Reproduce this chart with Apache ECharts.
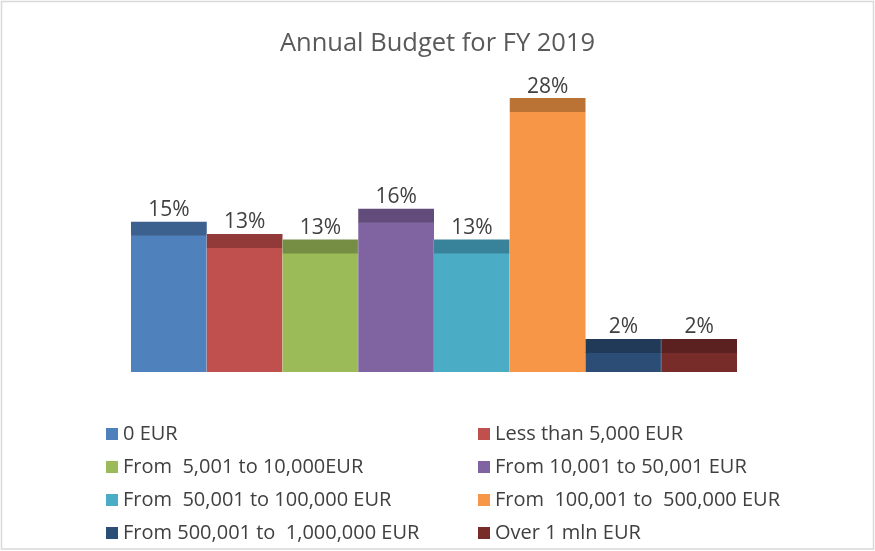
<!DOCTYPE html>
<html>
<head>
<meta charset="utf-8">
<script src="https://cdn.jsdelivr.net/npm/echarts@6/dist/echarts.min.js"></script>
<style>html,body{margin:0;padding:0;background:#fff;}#c{width:875px;height:551px;}</style>
</head>
<body>
<div id="c"></div>
<script>
const categories = ['0 EUR', 'Less than 5,000 EUR', 'From  5,001 to 10,000EUR', 'From 10,001 to 50,001 EUR',
  'From  50,001 to 100,000 EUR', 'From  100,001 to  500,000 EUR', 'From 500,001 to  1,000,000 EUR', 'Over 1 mln EUR'];
const values = [14.7, 13.4, 12.8, 16.1, 12.8, 28.0, 2.1, 2.1];
const labels = ['15%', '13%', '13%', '16%', '13%', '28%', '2%', '2%'];
const colors = ['#4f81bd', '#c0504d', '#9bbb59', '#8064a2', '#4bacc6', '#f79646', '#2c4d75', '#772c2a'];
const topColors = ['#3c618f', '#923a39', '#758e43', '#614c7b', '#39839a', '#bb7235', '#213a58', '#5a2120'];

const FONT = '"Open Sans", "Noto Sans", sans-serif';
const chart = echarts.init(document.getElementById('c'));

const series = categories.map((name, i) => ({
  name: name,
  type: 'custom',
  color: colors[i],
  itemStyle: { color: colors[i] },
  encode: { x: 0, y: 1 },
  data: [[i, values[i]]],
  renderItem: function (params, api) {
    const xi = api.value(0), v = api.value(1);
    const base = api.coord([xi, 0]);
    const top = api.coord([xi, v]);
    const w = api.size([1, 0])[0];
    const band = 13.5;
    return {
      type: 'group',
      children: [
        { type: 'rect', shape: { x: base[0] - w / 2, y: top[1] - band, width: w, height: base[1] - top[1] + band },
          style: { fill: 'none', stroke: 'rgba(255,255,255,0.35)', lineWidth: 1 } },
        { type: 'rect', shape: { x: base[0] - w / 2, y: top[1], width: w, height: base[1] - top[1] },
          style: { fill: colors[i] } },
        { type: 'rect', shape: { x: base[0] - w / 2, y: top[1] - band, width: w, height: band + 0.5 },
          style: { fill: topColors[i] } },
        { type: 'text', style: { text: labels[i], x: base[0], y: top[1] - band - 1,
          align: 'center', verticalAlign: 'bottom', fill: '#404040', fontSize: 21, fontFamily: FONT } }
      ]
    };
  }
}));

const leftNames = [categories[0], categories[2], categories[4], categories[6]];
const rightNames = [categories[1], categories[3], categories[5], categories[7]];
const legendBase = {
  orient: 'vertical', icon: 'rect', itemWidth: 12, itemHeight: 12, itemGap: 11, padding: 0,
  textStyle: { fontSize: 20, color: '#404040', fontFamily: FONT, lineHeight: 22 },
  top: 423, height: 130, selectedMode: false
};

chart.setOption({
  backgroundColor: '#ffffff',
  animation: false,
  title: {
    text: 'Annual Budget for FY 2019', left: 'center', top: 26,
    textStyle: { fontSize: 25.5, fontWeight: 'normal', color: '#595959', fontFamily: FONT }
  },
  graphic: [{ type: 'rect', shape: { x: 1.5, y: 1.5, width: 872, height: 547.5 },
    style: { fill: 'none', stroke: '#d9d9d9', lineWidth: 1.5 }, silent: true }],
  legend: [
    Object.assign({}, legendBase, { left: 106, data: leftNames }),
    Object.assign({}, legendBase, { left: 478, data: rightNames })
  ],
  grid: { left: 131, right: 138, top: 93, bottom: 179 },
  xAxis: { type: 'category', data: categories, show: false, boundaryGap: true },
  yAxis: { type: 'value', min: 0, max: 30, show: false, splitLine: { show: false } },
  series: series
});
</script>
</body>
</html>
